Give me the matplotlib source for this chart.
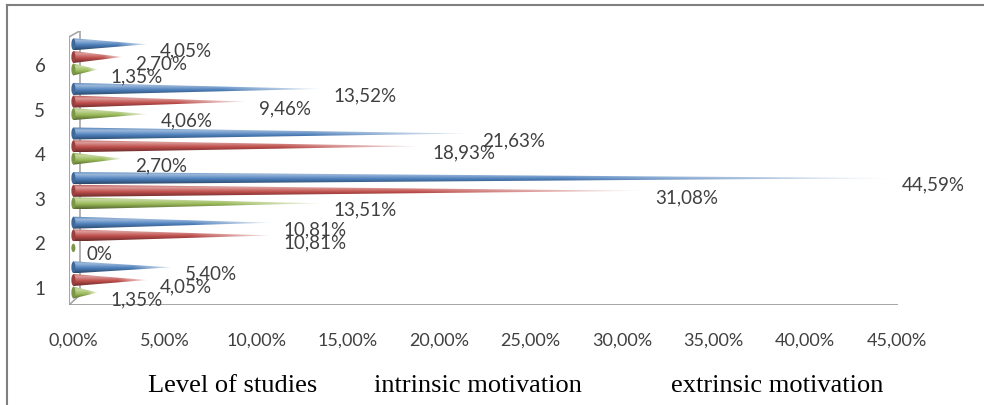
import numpy as np
import matplotlib.pyplot as plt
from matplotlib.patches import Polygon, Ellipse
from matplotlib.lines import Line2D
from matplotlib.colors import to_rgb

# survey results, % of respondents per level
levels = [1, 2, 3, 4, 5, 6]
series = ["Level of studies", "intrinsic motivation", "extrinsic motivation"]
blue_vals = [5.40, 10.81, 44.59, 21.63, 13.52, 4.05]
red_vals = [4.05, 10.81, 31.08, 18.93, 9.46, 2.70]
green_vals = [1.35, 0.00, 13.51, 2.70, 4.06, 1.35]
xticks = [0, 5, 10, 15, 20, 25, 30, 35, 40, 45]

colors = ["#4F81BD", "#C0504D", "#9BBB59"]
offsets = [0.285, 0.0, -0.28]
bar_h = 0.27
label_font = "Lato"
grey_txt = "#404040"


def cone_image(base, n_y=40, n_x=200):
    # vertical shading: darker underside, bright highlight near the top
    c = np.array(to_rgb(base))
    t = np.linspace(0, 1, n_y)[:, None]
    dark = c * 0.55
    light = c + (1 - c) * 0.45
    col = np.where(t < 0.4,
                   dark + (c - dark) * (t / 0.4),
                   np.where(t < 0.75,
                            c + (light - c) * ((t - 0.4) / 0.35),
                            light + (c * 0.95 - light) * ((t - 0.75) / 0.25)))
    img = np.repeat(col[:, None, :], n_x, axis=1)
    # fade toward white at the tip
    s = np.linspace(0, 1, n_x)[None, :, None]
    w = np.clip((s - 0.6) / 0.4, 0, 1) * 0.85
    img = img * (1 - w) + w
    return img


fig = plt.figure(figsize=(9.84, 4.06), dpi=100)
fig.patch.set_facecolor("white")
ax = fig.add_axes([69 / 984, 1 - 306 / 406, (898 - 69) / 984, (306 - 32) / 406])

x_lo, x_hi = -0.22, 45.07
y_lo, y_hi = 0.44, 6.583

# back wall and floor of the 3-D frame
wall_c = "#a6a6a6"
ax.plot([0.36, 0.36], [0.66, y_hi], color=wall_c, lw=1.2, zorder=1)
ax.plot([x_lo, x_lo], [y_lo, 6.45], color=wall_c, lw=1.5, zorder=1)
ax.plot([x_lo, 0.36], [6.45, y_hi], color=wall_c, lw=1.2, zorder=1)
ax.plot([x_lo, 0.36], [y_lo, 0.66], color=wall_c, lw=1.2, zorder=1)
ax.plot([x_lo, x_hi], [y_lo, y_lo], color="#8c8c8c", lw=1.8, zorder=1)

for vals, col, off in zip([blue_vals, red_vals, green_vals], colors, offsets):
    img = cone_image(col)
    for lev, v in zip(levels, vals):
        y = lev + off
        if v > 0:
            tri = Polygon([(0, y - bar_h / 2), (0, y + bar_h / 2), (v, y)],
                          closed=True, facecolor="none", edgecolor="none")
            ax.add_patch(tri)
            im = ax.imshow(img, extent=(0, v, y - bar_h / 2, y + bar_h / 2),
                           origin="lower", aspect="auto", zorder=3,
                           interpolation="bilinear")
            im.set_clip_path(tri)
        base = Ellipse((0.02, y), 0.22, bar_h * (0.95 if v > 0 else 0.7),
                       facecolor=np.array(to_rgb(col)) * 0.8, edgecolor="none",
                       zorder=3)
        ax.add_patch(base)
        txt = "0%" if v == 0 else f"{v:.2f}%".replace(".", ",")
        ax.annotate(txt, (v, y), xytext=(13, -6), textcoords="offset pixels",
                    ha="left", va="center", fontsize=13.5, family=label_font,
                    color=grey_txt, zorder=5)

ax.set_xlim(x_lo, x_hi)
ax.set_ylim(y_lo, y_hi)
for sp in ax.spines.values():
    sp.set_visible(False)
ax.set_facecolor("none")

ax.set_xticks(xticks)
ax.set_xticklabels([f"{t:.2f}%".replace(".", ",") for t in xticks],
                   family=label_font, fontsize=13, color=grey_txt)
ax.set_yticks(levels)
ax.set_yticklabels([str(l) for l in levels], family=label_font, fontsize=13.5,
                   color=grey_txt)
ax.tick_params(axis="x", length=0, pad=19)
ax.tick_params(axis="y", length=0, pad=17)
for lab in ax.get_yticklabels():
    lab.set_va("top")

# series names along the bottom
for name, xc in zip(series, [233, 478, 777]):
    fig.text(xc / 984, 1 - 386 / 406, name, ha="center", va="center",
             family="Liberation Serif", fontsize=19, color="black")

# outer chart frame
fig.add_artist(Line2D([7 / 984, 1], [1 - 6 / 406, 1 - 6 / 406],
                      transform=fig.transFigure, color="#7f7f7f", lw=1.5))
fig.add_artist(Line2D([7 / 984, 7 / 984], [0, 1 - 6 / 406],
                      transform=fig.transFigure, color="#7f7f7f", lw=1.5))

fig.savefig("out.png", dpi=100, facecolor="white")
